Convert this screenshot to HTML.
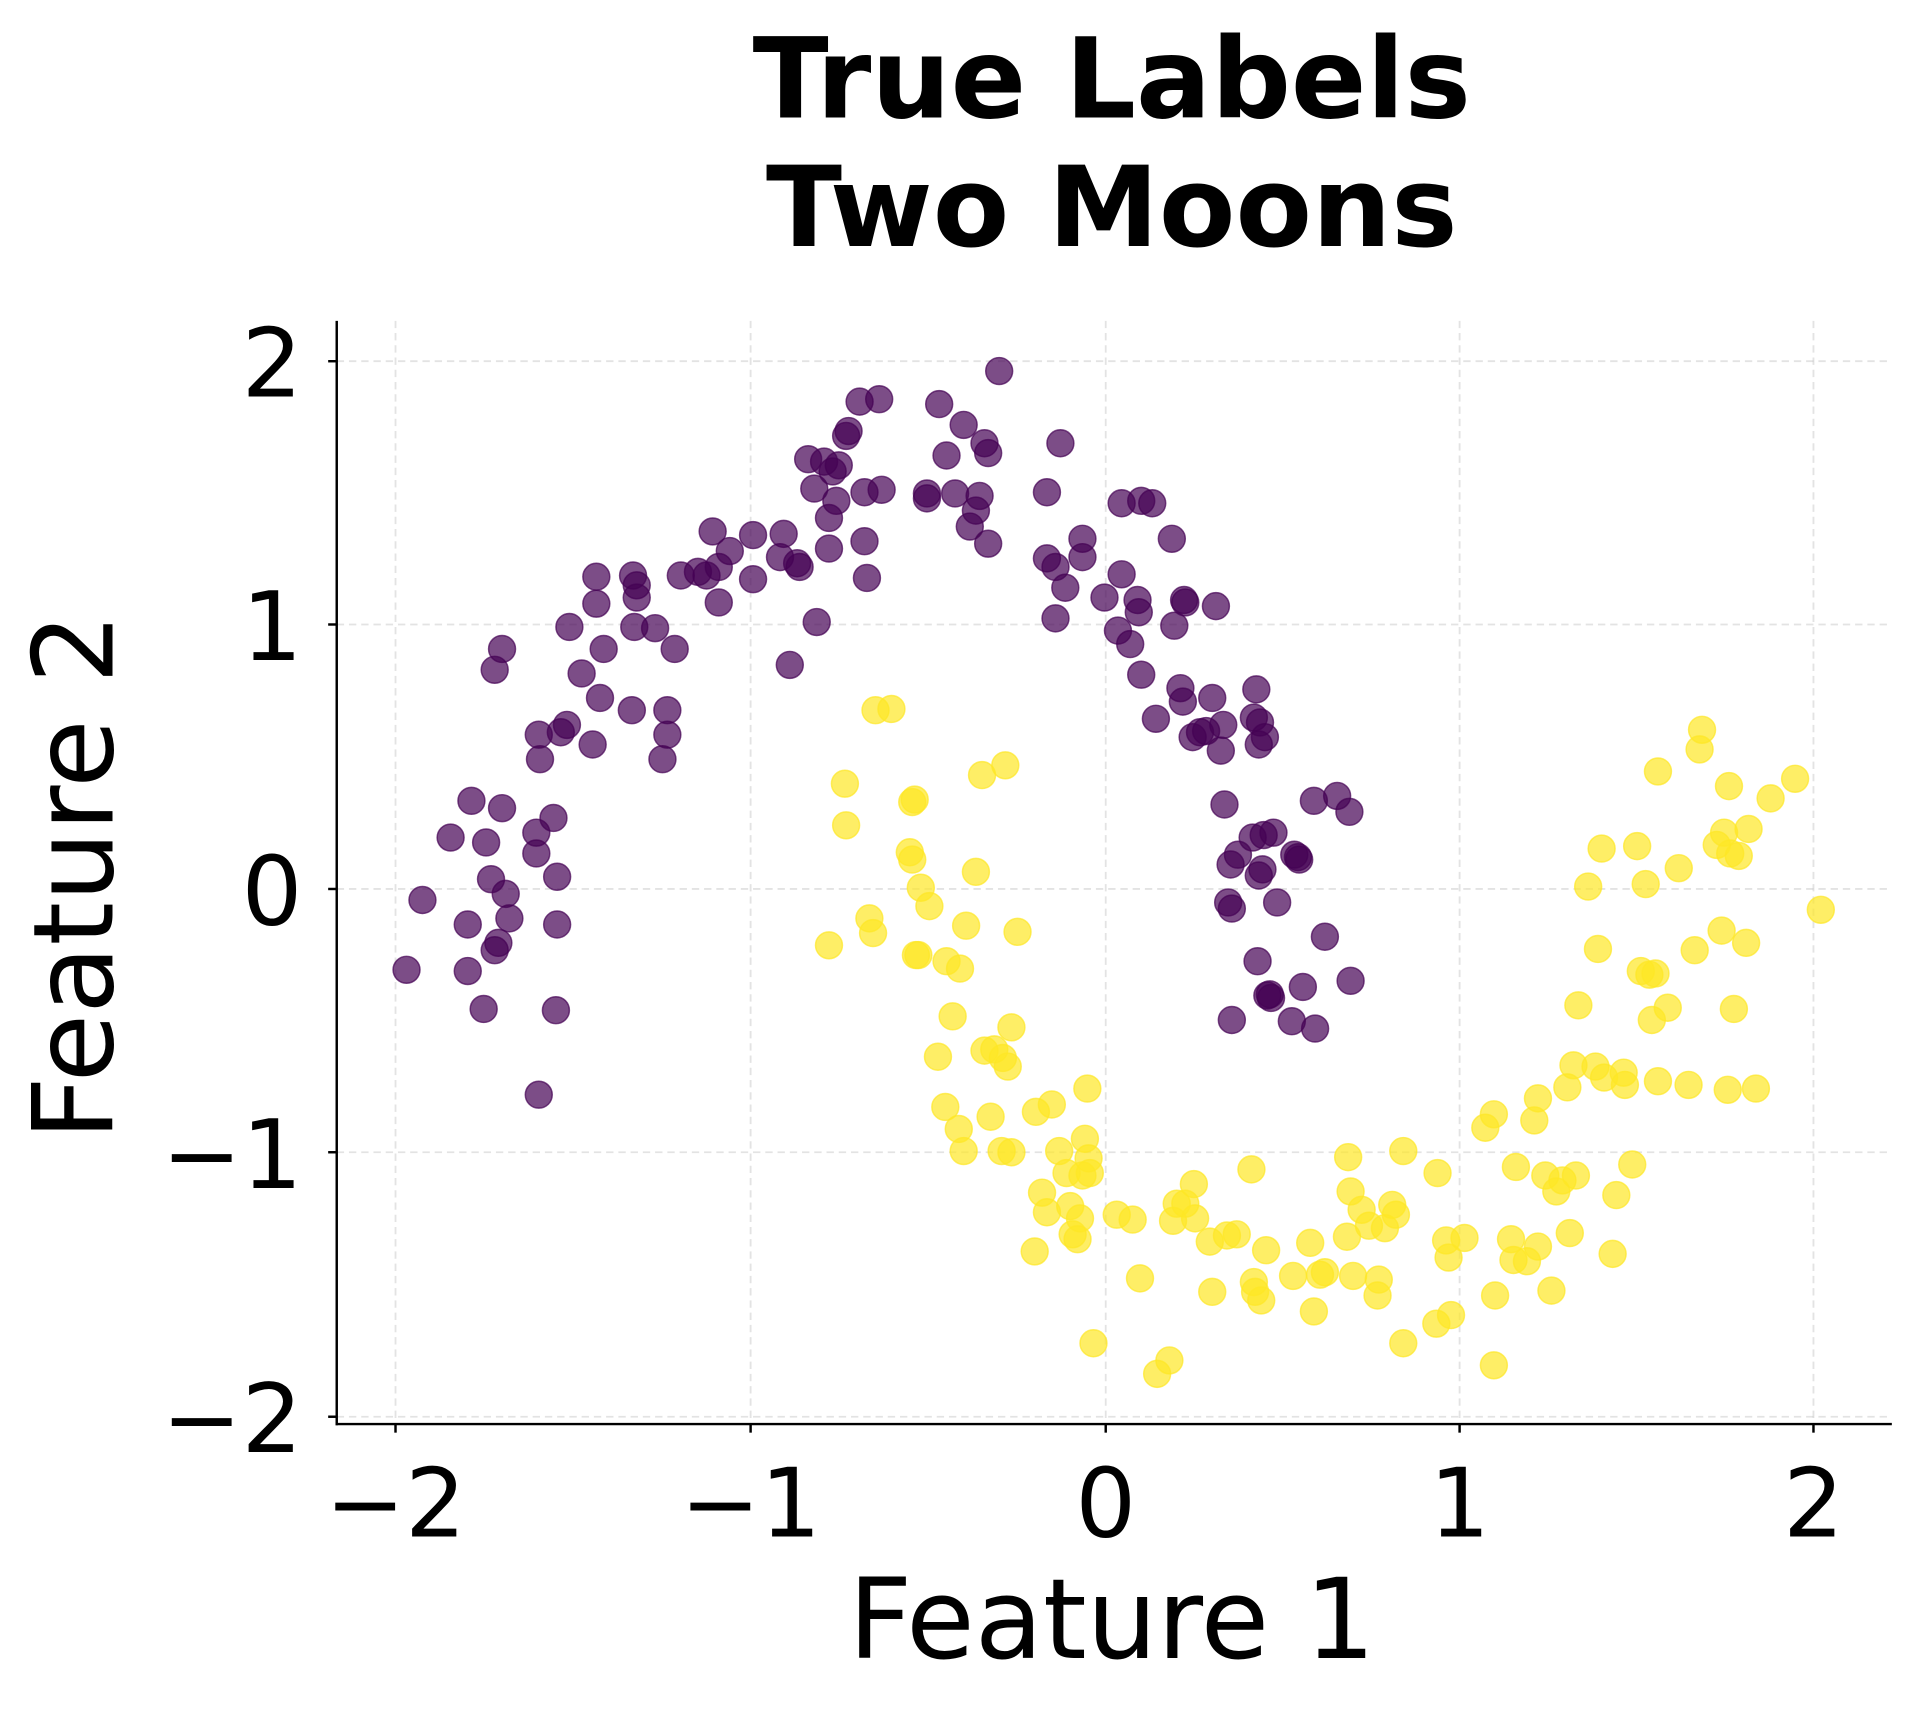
<!DOCTYPE html>
<html><head><meta charset="utf-8"><style>
html,body{margin:0;padding:0;background:#fff;}
svg{display:block;}
text{font-family:"DejaVu Sans","Liberation Sans",sans-serif;fill:#000;}
</style></head><body>
<svg id="s" width="1920" height="1710" viewBox="0 0 1568 1396.5" xmlns="http://www.w3.org/2000/svg">
<rect width="1568" height="1397" fill="#fff"/>
<g stroke="#b0b0b0" stroke-opacity="0.35" stroke-width="1.5" stroke-dasharray="6,4">
<line x1="323" y1="262" x2="323" y2="1163"/><line x1="613" y1="262" x2="613" y2="1163"/>
<line x1="903" y1="262" x2="903" y2="1163"/><line x1="1192" y1="262" x2="1192" y2="1163"/>
<line x1="1481" y1="262" x2="1481" y2="1163"/>
<line x1="275" y1="295" x2="1545" y2="295"/><line x1="275" y1="510" x2="1545" y2="510"/>
<line x1="275" y1="726" x2="1545" y2="726"/><line x1="275" y1="941" x2="1545" y2="941"/>
<line x1="275" y1="1157" x2="1545" y2="1157"/>
</g>
<g id="pts"></g>
<g stroke="#000" stroke-width="2">
<line x1="275" y1="262" x2="275" y2="1164"/><line x1="274" y1="1163" x2="1545" y2="1163"/>
<line x1="323" y1="1163" x2="323" y2="1170"/><line x1="613" y1="1163" x2="613" y2="1170"/>
<line x1="903" y1="1163" x2="903" y2="1170"/><line x1="1192" y1="1163" x2="1192" y2="1170"/>
<line x1="1481" y1="1163" x2="1481" y2="1170"/>
<line x1="268" y1="295" x2="275" y2="295"/><line x1="268" y1="510" x2="275" y2="510"/>
<line x1="268" y1="726" x2="275" y2="726"/><line x1="268" y1="941" x2="275" y2="941"/>
<line x1="268" y1="1157" x2="275" y2="1157"/>
</g>
<g font-size="78" text-anchor="middle">
<text x="323" y="1255">−2</text><text x="613" y="1255">−1</text><text x="903" y="1255">0</text>
<text x="1192" y="1255">1</text><text x="1481" y="1255">2</text>
</g>
<g font-size="78" text-anchor="end">
<text x="247" y="324">2</text><text x="247" y="539">1</text><text x="247" y="755">0</text>
<text x="247" y="970">−1</text><text x="247" y="1186">−2</text>
</g>
<text x="908" y="1354" font-size="91" text-anchor="middle">Feature 1</text>
<text transform="translate(92,716) rotate(-90)" font-size="91" text-anchor="middle">Feature 2</text>
<g font-size="91" font-weight="bold" text-anchor="middle">
<text x="908" y="96">True Labels</text><text x="908" y="201">Two Moons</text>
</g>
</svg>
<script>
var P=[332,792,345,735,368,684,385,654,382,755,397,688,401,718,404,776,407,770,410,660,413,730,416,750,395,824,382,793,404,547,410,530,440,894,440,600,441,620,438,680,438,697,452,668,455,716,455,755,454,825,458,598,463,592,475,550,484,608,487,471,487,493,490,570,493,530,465,512,516,580,518,512,517,470,520,478,520,488,535,513,545,580,545,600,541,620,551,530,556,470,570,467,577,470,582,434,587,463,587,492,596,450,615,437,615,473,640,436,637,455,645,543,651,460,653,463,667,508,660,375,665,399,673,377,677,423,680,385,683,409,677,448,685,380,691,356,693,352,702,328,706,402,708,472,706,442,718,326,720,400,757,407,757,403,767,330,773,372,780,403,787,347,792,430,797,417,800,405,804,362,807,370,807,444,816,303,855,402,855,456,862,463,866,362,862,505,870,480,884,440,884,455,916,469,902,488,916,411,932,409,941,411,913,515,923,526,929,490,932,551,930,500,944,587,957,440,959,511,964,562,966,573,967,490,968,492,974,602,980,598,990,570,993,495,999,592,997,613,985,597,1000,657,1006,742,1003,737,1011,698,1026,563,1024,586,1029,590,1033,602,1023,684,1032,682,1031,710,1040,680,1043,737,1028,715,1027,785,1035,813,1038,815,1055,834,1057,698,1061,702,1064,806,1073,654,1074,840,1082,765,1092,650,1102,663,1103,801,1006,833,1037,812,1028,608,1060,700,1005,706];
var Y=[677,772,690,640,691,674,715,580,728,579,710,750,713,762,745,655,747,653,743,696,745,702,750,780,748,780,752,725,759,740,773,785,784,791,797,712,789,756,778,830,766,863,772,904,783,922,787,940,802,633,821,625,831,761,804,858,812,857,819,864,826,839,823,871,809,912,818,940,826,941,846,908,851,974,855,990,845,1022,859,902,865,940,871,958,874,985,876,1008,880,1012,882,995,884,960,886,930,888,889,889,946,890,958,893,1097,912,992,925,996,931,1044,945,1122,955,1111,958,997,961,983,968,983,975,967,976,995,990,1055,988,1014,1002,1009,1010,1008,1022,955,1024,1047,1025,1055,1030,1062,1034,1021,1056,1042,1070,1015,1073,1071,1078,1041,1082,1039,1100,1010,1101,945,1103,973,1105,1042,1112,988,1118,1001,1126,1045,1125,1058,1131,1003,1137,984,1140,992,1146,940,1146,1097,1173,1081,1174,958,1181,1013,1183,1027,1185,1074,1196,1011,1213,921,1220,910,1221,1058,1220,1115,1234,1012,1236,1029,1238,953,1247,1030,1253,915,1256,897,1256,1018,1262,960,1267,1054,1271,973,1276,964,1282,1007,1287,960,1280,888,1285,870,1289,821,1297,724,1305,775,1308,693,1303,871,1310,880,1317,1024,1320,976,1327,886,1326,876,1333,951,1337,691,1344,722,1340,793,1347,796,1349,833,1352,795,1354,883,1362,823,1354,630,1371,709,1379,886,1384,776,1388,612,1390,596,1402,690,1406,760,1408,680,1412,642,1413,697,1416,824,1420,699,1411,890,1426,770,1428,677,1434,889,1446,652,1466,636,1487,743];
var g=document.getElementById('pts'),h='';
for(var i=0;i<P.length;i+=2)h+='<circle cx="'+P[i]+'" cy="'+P[i+1]+'" r="11" fill="#440154" fill-opacity="0.7" stroke="#440154" stroke-opacity="0.7" stroke-width="1.2"/>';
for(var i=0;i<Y.length;i+=2)h+='<circle cx="'+Y[i]+'" cy="'+Y[i+1]+'" r="11" fill="#fde725" fill-opacity="0.7" stroke="#fde725" stroke-opacity="0.7" stroke-width="1.2"/>';
g.innerHTML=h;
</script>
</body></html>
